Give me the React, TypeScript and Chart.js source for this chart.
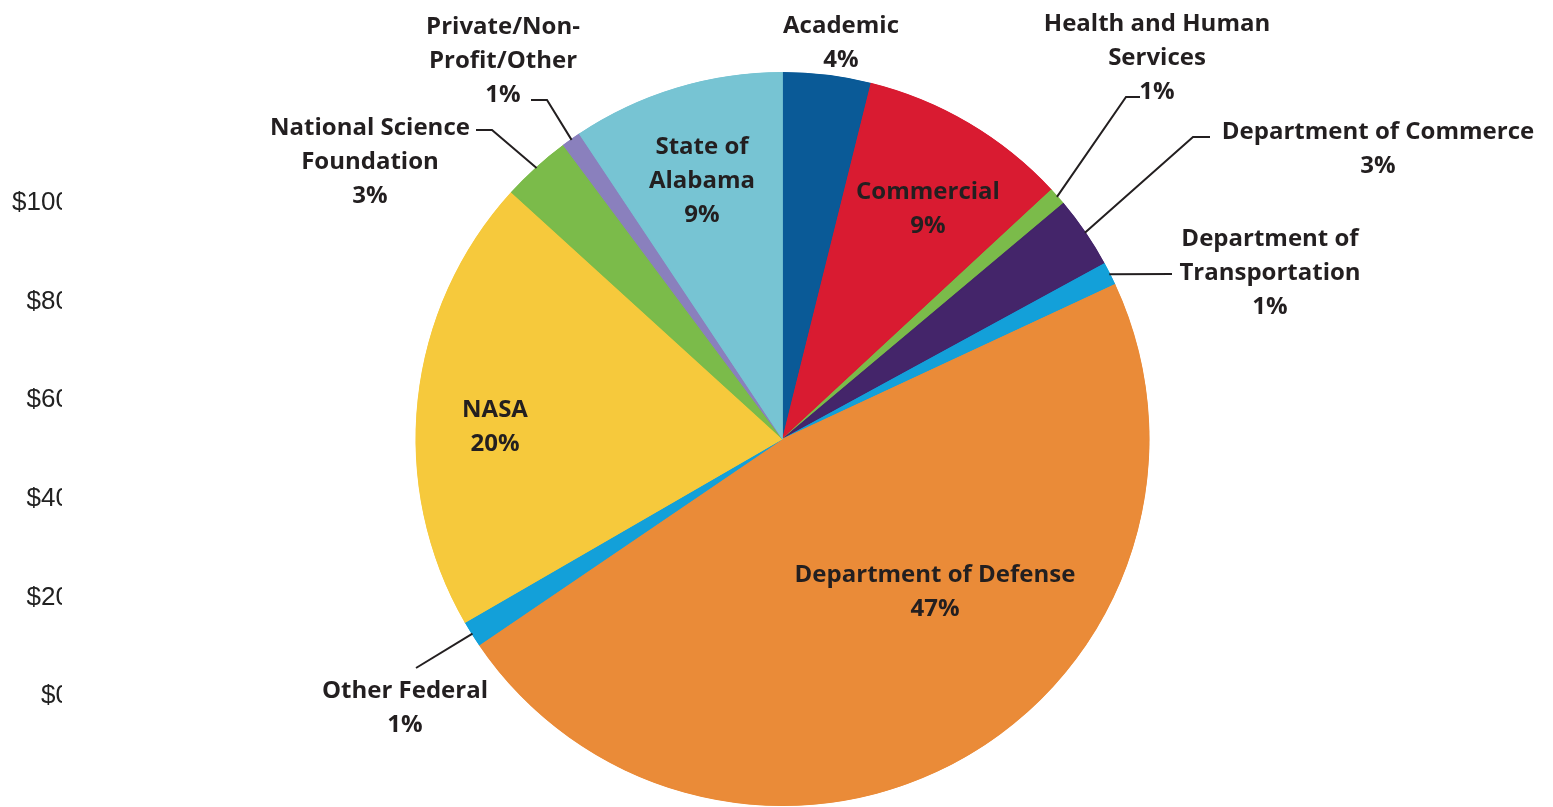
import React, { useEffect, useRef } from 'react';
import { Chart, registerables } from 'chart.js';

Chart.register(...registerables);

// slices, clockwise from 12 o'clock
const categories: string[][] = [
  ['Academic'],
  ['Commercial'],
  ['Health and Human', 'Services'],
  ['Department of Commerce'],
  ['Department of', 'Transportation'],
  ['Department of Defense'],
  ['Other Federal'],
  ['NASA'],
  ['National Science', 'Foundation'],
  ['Private/Non-', 'Profit/Other'],
  ['State of', 'Alabama'],
];

const shares = [3.88, 9.22, 0.79, 3.17, 1.01, 47.43, 1.16, 20.09, 3.05, 0.85, 9.35];

const sliceColors = [
  '#0a5a97',
  '#d91b31',
  '#7bbb4a',
  '#44256a',
  '#13a0d9',
  '#ea8b38',
  '#13a0d9',
  '#f6c93c',
  '#7bbb4a',
  '#8a80bd',
  '#77c4d3',
];

// cut-off axis of the neighbouring chart on the left
const axisTicks = [0, 20, 40, 60, 80, 100];

const TEXT = '#231f20';
const FONT = '700 24px "Open Sans"';
const LINE_H = 34;

// label placement, px offsets from the pie centre; lead = leader-line bends after the arc point
type Place = { dx: number; dy: number; lead?: [number, number][] };
const placements: Place[] = [
  { dx: 58.5, dy: -413 },
  { dx: 145.5, dy: -247 },
  { dx: 374.5, dy: -415, lead: [[343.5, -342], [357.5, -342]] },
  { dx: 595.5, dy: -307, lead: [[410.5, -302], [427.5, -302]] },
  { dx: 487.5, dy: -200, lead: [[389.5, -165]] },
  { dx: 152.5, dy: 136 },
  { dx: -377.5, dy: 252, lead: [[-366.5, 229]] },
  { dx: -287.5, dy: -29 },
  { dx: -412.5, dy: -311, lead: [[-290.5, -309], [-306.5, -309]] },
  { dx: -279.5, dy: -412, lead: [[-235.5, -339], [-251.5, -339]] },
  { dx: -80.5, dy: -292 },
];

const sliceLabels = {
  id: 'sliceLabels',
  afterDatasetsDraw(chart: any) {
    const meta = chart.getDatasetMeta(0);
    const data = chart.data.datasets[0].data as number[];
    const total = data.reduce((a, b) => a + b, 0);
    const ctx = chart.ctx as CanvasRenderingContext2D;
    ctx.save();
    ctx.font = FONT;
    ctx.fillStyle = TEXT;
    ctx.strokeStyle = TEXT;
    ctx.lineWidth = 2;
    ctx.textAlign = 'center';
    ctx.textBaseline = 'middle';
    meta.data.forEach((arc: any, i: number) => {
      const { x, y, startAngle, endAngle, outerRadius } = arc.getProps(
        ['x', 'y', 'startAngle', 'endAngle', 'outerRadius'],
        true
      );
      const p = placements[i];
      if (p.lead) {
        const mid = (startAngle + endAngle) / 2;
        ctx.beginPath();
        ctx.moveTo(x + Math.cos(mid) * (outerRadius - 1), y + Math.sin(mid) * (outerRadius - 1));
        p.lead.forEach(([lx, ly]) => ctx.lineTo(x + lx, y + ly));
        ctx.stroke();
      }
      const lines = [...(chart.data.labels[i] as string[]), Math.round((data[i] / total) * 100) + '%'];
      lines.forEach((t, k) => ctx.fillText(t, x + p.dx, y + p.dy + k * LINE_H));
    });
    ctx.restore();
  },
};

const App: React.FC = () => {
  const pieRef = useRef<HTMLCanvasElement | null>(null);
  const axisRef = useRef<HTMLCanvasElement | null>(null);

  useEffect(() => {
    if (!pieRef.current || !axisRef.current) return;

    const pie = new Chart(pieRef.current, {
      type: 'pie',
      data: {
        labels: categories,
        datasets: [
          {
            data: shares,
            backgroundColor: sliceColors,
            borderColor: sliceColors,
            borderWidth: 1,
            borderAlign: 'inner',
            hoverOffset: 0,
          },
        ],
      },
      options: {
        animation: false,
        responsive: true,
        maintainAspectRatio: false,
        radius: 367,
        layout: { padding: { top: 72, bottom: 1, left: 12, right: 0 } },
        plugins: { legend: { display: false }, tooltip: { enabled: false } },
      } as any,
      plugins: [sliceLabels],
    });

    const axis = new Chart(axisRef.current, {
      type: 'bar',
      data: { labels: [''], datasets: [{ data: [] }] },
      options: {
        animation: false,
        responsive: true,
        maintainAspectRatio: false,
        layout: { padding: { left: 12, top: 203, bottom: 111, right: 0 } },
        plugins: { legend: { display: false }, tooltip: { enabled: false } },
        scales: {
          x: { display: false },
          y: {
            min: axisTicks[0],
            max: axisTicks[axisTicks.length - 1],
            afterBuildTicks: (scale: any) => {
              scale.ticks = axisTicks.map((v) => ({ value: v }));
            },
            grid: { display: false, drawTicks: false },
            border: { display: false },
            ticks: {
              padding: 0,
              color: '#222222',
              font: { family: '"Liberation Sans", Arial', size: 26 },
              callback: (v: any) => '$' + v,
            },
          },
        },
      },
    });

    return () => {
      pie.destroy();
      axis.destroy();
    };
  }, []);

  return (
    <div style={{ position: 'fixed', left: 0, top: 0, width: 1553, height: 807, background: '#fff' }}>
      <div style={{ position: 'absolute', left: 0, top: 0, width: 62, height: 807, overflow: 'hidden' }}>
        <div style={{ position: 'relative', width: 160, height: 807 }}>
          <canvas ref={axisRef}></canvas>
        </div>
      </div>
      <div style={{ position: 'absolute', left: 0, top: 0, width: 1553, height: 807 }}>
        <canvas ref={pieRef}></canvas>
      </div>
    </div>
  );
};

export default App;
